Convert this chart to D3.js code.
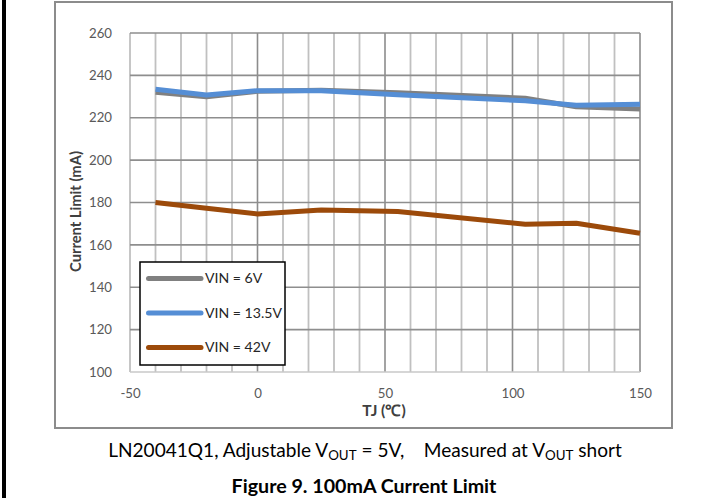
<!DOCTYPE html>
<html><head><meta charset="utf-8">
<script src="https://cdn.jsdelivr.net/npm/d3@7"></script>
<style>html,body{margin:0;padding:0;background:#fff;} svg{display:block;}</style>
</head><body>
<script>
// ---- data ----
const temps = [-40, -20, 0, 25, 55, 105, 125, 150];
const vin6 = [232.0, 229.9, 232.5, 233.0, 231.8, 229.2, 225.2, 224.1];
const vin135 = [233.4, 230.7, 232.8, 232.8, 230.9, 228.0, 225.9, 226.4];
const vin42 = [180.0, 177.3, 174.6, 176.5, 175.7, 169.7, 170.2, 165.5];
const seriesNames = ["VIN = 6V", "VIN = 13.5V", "VIN = 42V"];
const seriesColors = ["#808080", "#558ed5", "#9c4a0a"];
const xTicks = [-50, 0, 50, 100, 150];
const yTicks = [100, 120, 140, 160, 180, 200, 220, 240, 260];

const W = 717, H = 498;
const FONT = "Lato, 'Open Sans', sans-serif";
const svg = d3.select("body").append("svg").attr("width", W).attr("height", H)
  .style("font-family", FONT);

function fit(sel, w) {
  const n = sel.node();
  const cur = n.getComputedTextLength();
  const fs = parseFloat(sel.attr("font-size"));
  const nf = fs * w / cur;
  sel.attr("font-size", nf);
  return nf;
}

// left black page border
svg.append("rect").attr("x", 2).attr("y", 0).attr("width", 4).attr("height", H).attr("fill", "#000");
// chart frame
svg.append("rect").attr("x", 55).attr("y", 2).attr("width", 617).attr("height", 426)
  .attr("fill", "none").attr("stroke", "#8c8c8c").attr("stroke-width", 2);

const x = d3.scaleLinear().domain([-50, 150]).range([130, 640]);
const y = d3.scaleLinear().domain([100, 260]).range([372, 33]);

// grid
const g = svg.append("g");
g.selectAll(".vminor").data(d3.range(-50, 151, 10)).join("line")
  .attr("x1", d => x(d)).attr("x2", d => x(d)).attr("y1", y(100)).attr("y2", y(260))
  .attr("stroke", d => (d % 50 === 0 && d !== -50) ? "#8c8c8c" : "#c0c0c0")
  .attr("stroke-width", d => (d % 50 === 0 && d !== -50) ? 1.6 : 1.8);
g.selectAll(".hgrid").data(yTicks).join("line")
  .attr("x1", x(-50)).attr("x2", x(150)).attr("y1", d => y(d)).attr("y2", d => y(d))
  .attr("stroke", d => d === 100 ? "#c8c8c8" : "#8e8e8e").attr("stroke-width", 1.6);

// axes (labels only)
const tickFs = 13;
const fmt = d => String(d);
const ya = svg.append("g").attr("transform", `translate(${x(-50)},0)`)
  .call(d3.axisLeft(y).tickValues(yTicks).tickFormat(fmt).tickSize(0).tickPadding(18));
ya.select(".domain").remove();
ya.selectAll("text").attr("font-family", FONT).attr("font-size", tickFs).attr("fill", "#595959");
const xa = svg.append("g").attr("transform", `translate(0,${y(100)})`)
  .call(d3.axisBottom(x).tickValues(xTicks).tickFormat(fmt).tickSize(0).tickPadding(17));
xa.select(".domain").remove();
xa.selectAll("text").attr("font-family", FONT).attr("font-size", tickFs).attr("fill", "#595959");
// fit tick font size on "200"
{
  const t = ya.selectAll("text").filter(d => d === 200);
  const nf = fit(t, 23);
  ya.selectAll("text").attr("font-size", nf);
  xa.selectAll("text").attr("font-size", nf);
}

// axis titles
const yt = svg.append("text").attr("transform", "translate(81,211.5) rotate(-90)")
  .attr("text-anchor", "middle").attr("font-size", 12).attr("font-weight", "bold")
  .attr("fill", "#404040").text("Current Limit (mA)");
fit(yt, 121);
const xt = svg.append("text").attr("x", 384).attr("y", 416)
  .attr("text-anchor", "middle").attr("font-size", 12).attr("font-weight", "bold")
  .attr("fill", "#404040").text("TJ (℃)");
fit(xt, 43);

// lines
const line = d3.line().x((d, i) => x(temps[i])).y(d => y(d));
[vin6, vin135, vin42].forEach((s, k) => {
  svg.append("path").attr("d", line(s)).attr("fill", "none")
    .attr("stroke", seriesColors[k]).attr("stroke-width", 5)
    .attr("stroke-linejoin", "round").attr("stroke-linecap", "butt");
});

// legend
const lg = svg.append("g");
lg.append("rect").attr("x", 140).attr("y", 262).attr("width", 145).attr("height", 103)
  .attr("fill", "#fff").attr("stroke", "#000").attr("stroke-width", 1.5);
const ly = [278.5, 313, 347.5];
let legFs = 13;
seriesNames.forEach((nm, k) => {
  lg.append("line").attr("x1", 148.5).attr("x2", 201).attr("y1", ly[k]).attr("y2", ly[k])
    .attr("stroke", seriesColors[k]).attr("stroke-width", 5).attr("stroke-linecap", "round");
  const t = lg.append("text").attr("x", 205).attr("y", ly[k]).attr("dy", "0.35em")
    .attr("font-size", legFs).attr("fill", "#262626").text(nm);
  if (k === 1) legFs = fit(t, 77);
});
lg.selectAll("text").attr("font-size", legFs);

// caption
const cap = svg.append("text").attr("x", 365).attr("y", 457).attr("text-anchor", "middle")
  .attr("font-size", 17).attr("fill", "#000").style("white-space", "pre");
cap.append("tspan").text("LN20041Q1, Adjustable V");
cap.append("tspan").attr("font-size", "0.7em").attr("dy", 3).text("OUT");
cap.append("tspan").attr("dy", -3).text(" = 5V,    Measured at V");
cap.append("tspan").attr("font-size", "0.7em").attr("dy", 3).text("OUT");
cap.append("tspan").attr("dy", -3).text(" short");
fit(cap, 514);

const title = svg.append("text").attr("x", 364).attr("y", 493).attr("text-anchor", "middle")
  .attr("font-size", 16).attr("font-weight", "bold").attr("fill", "#000")
  .text("Figure 9. 100mA Current Limit");
fit(title, 265);
</script>
</body></html>
